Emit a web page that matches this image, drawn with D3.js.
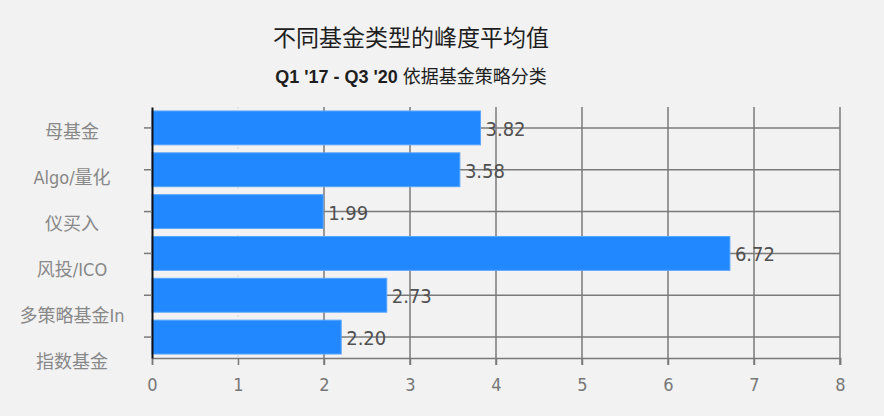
<!DOCTYPE html>
<html>
<head>
<meta charset="utf-8">
<script src="https://cdn.jsdelivr.net/npm/d3@7"></script>
<style>
  body { margin: 0; background: #f2f2f2; }
  svg { display: block; }
  .cond { font-family: 'DejaVu Sans Condensed', 'DejaVu Sans', 'Noto Sans CJK SC', sans-serif; font-stretch: condensed; }
</style>
</head>
<body>
<div id="chart"></div>
<script>
// data
var categories = ["母基金", "Algo/量化", "仪买入", "风投/ICO", "多策略基金In", "指数基金"];
var values = [3.82, 3.58, 1.99, 6.72, 2.73, 2.20];
var xTicks = [0, 1, 2, 3, 4, 5, 6, 7, 8];
var title = "不同基金类型的峰度平均值";
var subtitleA = "Q1 '17 - Q3 '20 ";
var subtitleB = "依据基金策略分类";

var W = 884, H = 416;
var margin = {top: 107, right: 44, bottom: 58, left: 152},
    width = W - margin.left - margin.right,
    height = H - margin.top - margin.bottom;

var svg = d3.select("#chart")
  .append("svg")
    .attr("width", W)
    .attr("height", H)
    .style("background", "#f2f2f2");

// titles
svg.append("text")
    .attr("x", 411)
    .attr("y", 38)
    .attr("dy", "0.35em")
    .attr("text-anchor", "middle")
    .style("font-family", "'Noto Sans CJK SC', sans-serif")
    .style("font-size", "23px")
    .style("fill", "#1e1e1e")
    .text(title);

var sub = svg.append("text")
    .attr("x", 411)
    .attr("y", 77)
    .attr("dy", "0.35em")
    .attr("text-anchor", "middle")
    .style("fill", "#1e1e1e");
sub.append("tspan")
    .style("font-family", "'Liberation Sans', Arial, sans-serif")
    .style("font-weight", "bold")
    .style("font-size", "18px")
    .text(subtitleA);
sub.append("tspan")
    .style("font-family", "'Noto Sans CJK SC', sans-serif")
    .style("font-size", "18px")
    .text(subtitleB);

var g = svg.append("g")
    .attr("transform", "translate(" + margin.left + "," + margin.top + ")");

var x = d3.scaleLinear()
    .domain([0, 8])
    .range([0, width]);

var y = d3.scaleBand()
    .domain(categories)
    .range([0, height])
    .paddingInner(0.19)
    .paddingOuter(0.095);

// the category labels sit a bit lower than the ticks in the original
var yLabel = d3.scalePoint()
    .domain(categories)
    .range([132 - margin.top, 362 - margin.top]);

// vertical grid
g.append("g")
  .selectAll("line")
  .data(xTicks.filter(function(d) { return d > 0; }))
  .enter().append("line")
    .attr("x1", function(d) { return x(d); })
    .attr("x2", function(d) { return x(d); })
    .attr("y1", 0)
    .attr("y2", height + 7)
    .attr("stroke", function(d) { return d === 1 ? "#e0e0e0" : "#7a7a7a"; })
    .attr("stroke-dasharray", function(d) { return d === 1 ? "2,6" : null; })
    .attr("stroke-width", 1.5);

// horizontal grid at the band centres
g.append("g")
  .selectAll("line")
  .data(categories)
  .enter().append("line")
    .attr("x1", 0)
    .attr("x2", width)
    .attr("y1", function(d) { return y(d) + y.bandwidth() / 2; })
    .attr("y2", function(d) { return y(d) + y.bandwidth() / 2; })
    .attr("stroke", "#7a7a7a")
    .attr("stroke-width", 1.5);

// bars
g.append("g")
  .selectAll("rect")
  .data(values)
  .enter().append("rect")
    .attr("x", x(0))
    .attr("y", function(d, i) { return y(categories[i]); })
    .attr("width", function(d) { return x(d) - x(0); })
    .attr("height", y.bandwidth())
    .attr("fill", "#2288ff")
    .attr("stroke", "#5aa6ff")
    .attr("stroke-width", 1);

// value labels
g.append("g")
  .selectAll("text")
  .data(values)
  .enter().append("text")
    .attr("class", "cond")
    .attr("x", function(d) { return x(d) + 5; })
    .attr("y", function(d, i) { return y(categories[i]) + y.bandwidth() / 2 + 1; })
    .attr("dy", "0.35em")
    .style("font-size", "20px")
    .style("fill", "#505050")
    .text(function(d) { return d.toFixed(2); });

// bottom axis
var xAxis = g.append("g")
    .attr("transform", "translate(0," + height + ")")
    .call(d3.axisBottom(x).tickValues(xTicks).tickSize(7).tickPadding(13));
xAxis.select(".domain").attr("stroke", "#7a7a7a").attr("stroke-width", 1.5);
xAxis.selectAll(".tick line").attr("stroke", "#7a7a7a").attr("stroke-width", 1.5);
xAxis.selectAll(".tick text")
    .attr("class", "cond")
    .style("font-size", "18px")
    .style("fill", "#777");

// left axis: ticks only, labels placed separately
var yAxis = g.append("g")
    .call(d3.axisLeft(y).tickSize(8).tickSizeOuter(0).tickFormat(""));
yAxis.selectAll(".tick line").attr("stroke", "#7a7a7a").attr("stroke-width", 1.5);
yAxis.select(".domain").attr("stroke", "#111").attr("stroke-width", 2);

g.append("g")
  .selectAll("text")
  .data(categories)
  .enter().append("text")
    .attr("class", "cond")
    .attr("x", 72 - margin.left)
    .attr("y", function(d) { return yLabel(d); })
    .attr("dy", "0.35em")
    .attr("text-anchor", "middle")
    .style("font-size", "18px")
    .style("fill", "#888")
    .text(function(d) { return d; });
</script>
</body>
</html>
